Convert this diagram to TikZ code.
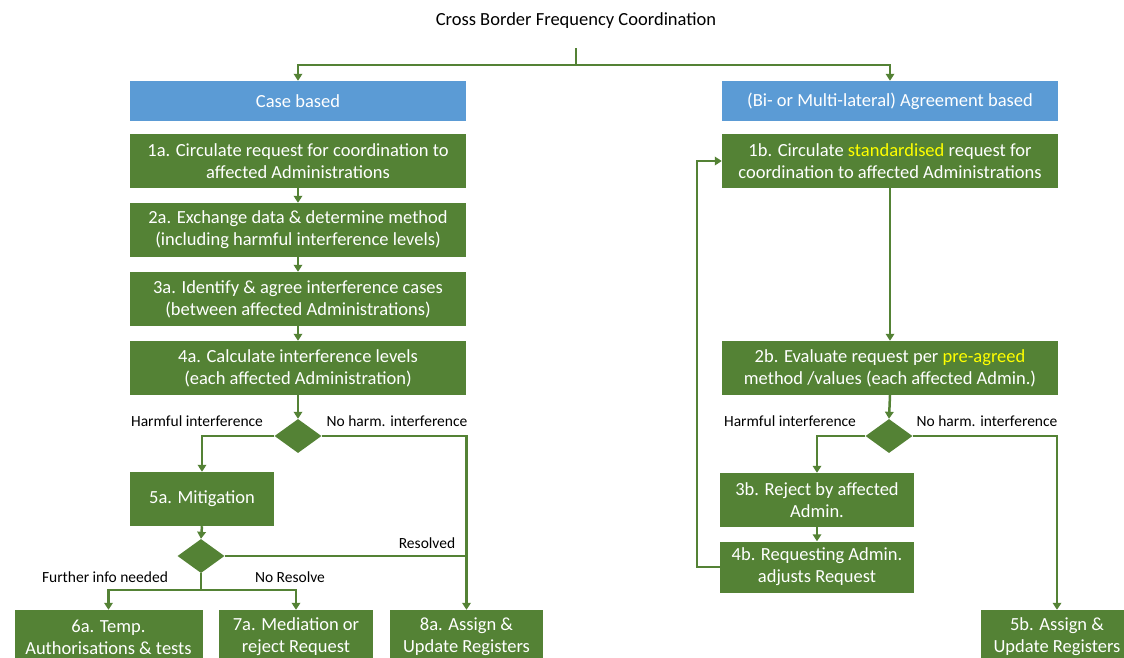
\documentclass[tikz,border=0pt]{standalone}
\usepackage{fontspec}
\setmainfont{Carlito}
\usetikzlibrary{arrows.meta,shapes.geometric}
\definecolor{gfill}{HTML}{548235}
\definecolor{bfill}{HTML}{5B9BD5}
\definecolor{hl}{HTML}{FFFF00}
\tikzset{
  gbox/.style={rectangle, fill=gfill, text=white, align=center, inner sep=0pt,
    minimum width=336pt, minimum height=54pt, font=\fontsize{18.5}{22}\selectfont},
  bluebox/.style={gbox, fill=bfill, minimum height=40pt},
  dia/.style={diamond, fill=gfill, inner sep=0pt, minimum width=47pt, minimum height=34pt},
  conn/.style={draw=gfill, line width=2.5pt, -{Triangle[length=7pt,width=8.5pt]}},
  plain/.style={draw=gfill, line width=2.5pt},
  lbl/.style={font=\fontsize{15.5}{18}\selectfont, text=black, inner sep=0pt},
}
\begin{document}
\begin{tikzpicture}[x=1pt,y=-1pt]
\useasboundingbox (0,0) rectangle (1124,657);
\clip (0,0) rectangle (1124,657);

\node[font=\fontsize{18.5}{22}\selectfont, inner sep=0pt] (title) at (576,21) {Cross Border Frequency Coordination};
\coordinate (t0) at (576,48);
\coordinate (tsplit) at (576,65);

% left column
\node[bluebox] (cb) at (298,101) {Case based};
\node[gbox] (a1) at (298,161) {1a. Circulate request for coordination to\\affected Administrations};
\node[gbox] (a2) at (298,230) {2a. Exchange data \& determine method\\(including harmful interference levels)};
\node[gbox] (a3) at (298,299) {3a. Identify \& agree interference cases\\(between affected Administrations)};
\node[gbox] (a4) at (298,368) {4a. Calculate interference levels\\(each affected Administration)};
\node[dia] (d1) at (298,436) {};
\node[gbox, minimum width=144pt] (a5) at (202,499) {5a. Mitigation};
\node[dia] (d2) at (201,556) {};
\node[gbox, minimum width=188pt] (a6) at (108.5,637) {6a. Temp.\\Authorisations \& tests};
\node[gbox, minimum width=154pt] (a7) at (296,637) {7a. Mediation or\\reject Request};
\node[gbox, minimum width=153pt] (a8) at (466.5,637) {8a. Assign \&\\Update Registers};

% right column
\node[bluebox] (ab) at (890,101) {(Bi- or Multi-lateral) Agreement based};
\node[gbox] (b1) at (890,161) {1b. Circulate {\color{hl}standardised} request for\\coordination to affected Administrations};
\node[gbox] (b2) at (890,368) {2b. Evaluate request per {\color{hl}pre-agreed}\\method /values (each affected Admin.)};
\node[dia] (d3) at (889,436) {};
\node[gbox, minimum width=194pt] (b3) at (817,500) {3b. Reject by affected\\Admin.};
\node[gbox, minimum width=194pt, minimum height=51pt] (b4) at (817,567) {4b. Requesting Admin.\\adjusts Request};
\node[gbox, minimum width=152pt] (b5) at (1057,637) {5b. Assign \&\\Update Registers};

% labels
\node[lbl] (l1) at (197,421) {Harmful interference};
\node[lbl] (l2) at (397,421) {No harm. interference};
\node[lbl] (l3) at (427,543) {Resolved};
\node[lbl] (l4) at (105,577) {Further info needed};
\node[lbl] (l5) at (290,577) {No Resolve};
\node[lbl] (l6) at (790,421) {Harmful interference};
\node[lbl] (l7) at (987,421) {No harm. interference};

% connectors top
\draw[plain] (t0) -- (tsplit);
\draw[conn] (tsplit) -| (cb.north);
\draw[conn] (tsplit) -| (ab.north);

% left connectors
\draw[conn] (a1.south) -- (a2.north);
\draw[conn] (a2.south) -- (a3.north);
\draw[conn] (a3.south) -- (a4.north);
\draw[conn] (a4.south) -- (d1.north);
\draw[conn] (d1.west) -| (a5.north);
\draw[conn] (d1.east) -| (a8.north);
\draw[conn] (a5.south) -- (d2.north);
\draw[plain] (d2.east) -- (d2.east -| a8.north);
\coordinate (split2) at (201,590);
\draw[plain] (d2.south) -- (split2);
\draw[conn] (split2) -| (a6.north);
\draw[conn] (split2) -| (a7.north);

% right connectors
\draw[conn] (b1.south) -- (b2.north);
\draw[conn] (b2.south) -- (d3.north);
\draw[conn] (d3.west) -| (b3.north);
\draw[conn] (d3.east) -| (b5.north);
\draw[conn] (b3.south) -- (b4.north);
\coordinate (loop) at (697,567);
\draw[conn] (b4.west) -- (loop) |- (b1.west);
\end{tikzpicture}
\end{document}
